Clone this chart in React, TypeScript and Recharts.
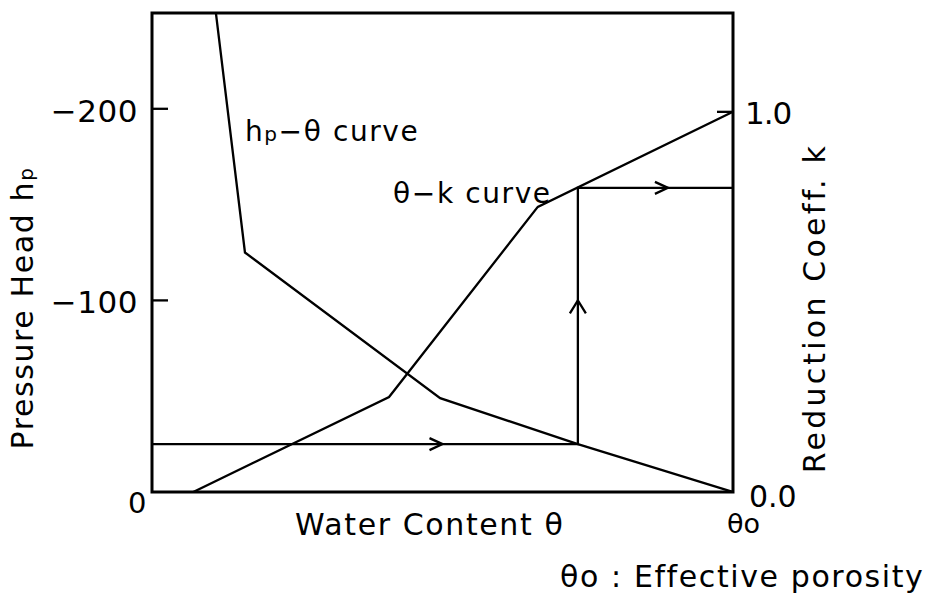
import {
  ComposedChart,
  Label,
  Line,
  ReferenceArea,
  ReferenceDot,
  Scatter,
  XAxis,
  YAxis,
} from "recharts";

const FONT = "'DejaVu Sans', sans-serif";
const INK = "#000";

// axis extents: pressure head (left, negative upward) and reduction coeff. (right)
const H_MAX = 250;
const K_MAX = 1.26;

// hp-θ curve, θ normalised by the effective porosity θo
const hpTheta = [0.11, 0.16, 0.496, 0.733, 1.0];
const hpHead = [-250, -125, -49, -25, 0];

// θ-k curve
const kTheta = [0.071, 0.408, 0.664, 1.0];
const kCoeff = [0, 0.25, 0.75, 1.0];

// reading path: hp on the left axis -> θ -> k on the right axis
const pathTheta = 0.733;
const pathHead = -25;
const pathK = 0.8;

// arrow heads along the path
const arrowTheta = [0.5, 0.733, 0.888];
const arrowDir = ["right", "up", "right"];

const leftTicks = [-200, -100, 0];
const rightTicks = [0, 1.0];
const thetaTicks = [1];

// k expressed in the left-axis units so the path can be one polyline
const kToHead = (k: number) => (-k * H_MAX) / K_MAX;

const hpData = hpTheta.map((t, i) => ({ t, h: hpHead[i] }));
const kData = kTheta.map((t, i) => ({ t, k: kCoeff[i] }));
const pathData = [
  { t: 0, h: pathHead },
  { t: pathTheta, h: pathHead },
  { t: pathTheta, h: kToHead(pathK) },
  { t: 1, h: kToHead(pathK) },
];
const arrowHead = [pathHead, -100, kToHead(pathK)];
const arrowData = arrowTheta.map((t, i) => ({ t, h: arrowHead[i], dir: arrowDir[i] }));

const txt = { fontFamily: FONT, fill: INK, letterSpacing: 1.6 } as const;
const LINE_W = 2.3;

const LeftTick = (props: any) => {
  const { x, y, payload } = props;
  const v = payload.value as number;
  if (v === 0) {
    return (
      <text x={x - 4} y={y + 21} textAnchor="end" fontSize={29} {...txt}>
        0
      </text>
    );
  }
  return (
    <g>
      <line x1={x} y1={y} x2={x + 16} y2={y} stroke={INK} strokeWidth={2.3} />
      <text x={x - 14} y={y + 13} textAnchor="end" fontSize={31} {...txt} letterSpacing={0.5}>
        {`−${Math.abs(v)}`}
      </text>
    </g>
  );
};

const RightTick = (props: any) => {
  const { x, y, payload } = props;
  const v = payload.value as number;
  if (v === 0) {
    return (
      <text x={x + 16} y={y + 15} textAnchor="start" fontSize={30} {...txt} letterSpacing={0}>
        0.0
      </text>
    );
  }
  return (
    <g>
      <line x1={x - 16} y1={y} x2={x} y2={y} stroke={INK} strokeWidth={2.3} />
      <text x={x + 12} y={y + 12} textAnchor="start" fontSize={31} {...txt} letterSpacing={-1}>
        {v.toFixed(1)}
      </text>
    </g>
  );
};

const ThetaTick = (props: any) => {
  const { x, y } = props;
  return (
    <text x={x - 6} y={y + 41} textAnchor="start" fontSize={27} {...txt} letterSpacing={0}>
      θo
    </text>
  );
};

const Arrow = (props: any) => {
  const { cx, cy, payload } = props;
  const d =
    payload.dir === "up"
      ? `M${cx - 8},${cy + 13} L${cx},${cy} L${cx + 8},${cy + 13}`
      : `M${cx - 13},${cy - 6} L${cx},${cy} L${cx - 13},${cy + 6}`;
  return <path d={d} fill="none" stroke={INK} strokeWidth={LINE_W} />;
};

const LeftTitle = (props: any) => {
  const { x, y } = props.viewBox;
  const cx = x + 33;
  const cy = y + 295;
  return (
    <text x={cx} y={cy} transform={`rotate(-90 ${cx} ${cy})`} textAnchor="middle" fontSize={30} {...txt}>
      Pressure Head h
      <tspan fontSize={20}>p</tspan>
    </text>
  );
};

const RightTitle = (props: any) => {
  const { x, y } = props.viewBox;
  const cx = x + 92;
  const cy = y + 295;
  return (
    <text
      x={cx}
      y={cy}
      transform={`rotate(-90 ${cx} ${cy})`}
      textAnchor="middle"
      fontSize={30}
      {...txt}
      letterSpacing={3.2}
    >
      Reduction Coeff. k
    </text>
  );
};

const BottomTitle = (props: any) => {
  const { x, y } = props.viewBox;
  return (
    <text x={x + 143} y={y + 43} textAnchor="start" fontSize={30} {...txt}>
      Water Content θ
    </text>
  );
};

const Footnote = (props: any) => {
  const { x, y } = props.viewBox;
  return (
    <text x={x + 408} y={y + 95} textAnchor="start" fontSize={30} {...txt}>
      θo : Effective porosity
    </text>
  );
};

const HpCurveLabel = (props: any) => {
  const { x, y } = props.viewBox;
  return (
    <text x={x} y={y} textAnchor="start" fontSize={28} {...txt}>
      h<tspan fontSize={20}>p</tspan>−θ curve
    </text>
  );
};

const KCurveLabel = (props: any) => {
  const { x, y } = props.viewBox;
  return (
    <text x={x} y={y} textAnchor="start" fontSize={28} {...txt}>
      θ−k curve
    </text>
  );
};

export default function App() {
  return (
    <div style={{ position: "absolute", left: 0, top: 0, width: 932, height: 596, background: "#fff" }}>
      <ComposedChart width={932} height={596} margin={{ top: 13, right: 0, bottom: 0, left: 0 }}>
        <XAxis
          type="number"
          dataKey="t"
          domain={[0, 1]}
          ticks={thetaTicks}
          height={104}
          axisLine={false}
          tickLine={false}
          tickSize={0}
          tickMargin={0}
          tick={<ThetaTick />}
          allowDataOverflow
        >
          <Label content={<BottomTitle />} />
          <Label content={<Footnote />} />
        </XAxis>
        <YAxis
          yAxisId="h"
          type="number"
          domain={[-H_MAX, 0]}
          reversed
          ticks={leftTicks}
          width={152}
          axisLine={false}
          tickLine={false}
          tickSize={0}
          tickMargin={0}
          tick={<LeftTick />}
          allowDataOverflow
        >
          <Label content={<LeftTitle />} />
        </YAxis>
        <YAxis
          yAxisId="k"
          orientation="right"
          type="number"
          domain={[0, K_MAX]}
          ticks={rightTicks}
          width={199}
          axisLine={false}
          tickLine={false}
          tickSize={0}
          tickMargin={0}
          tick={<RightTick />}
          allowDataOverflow
        >
          <Label content={<RightTitle />} />
        </YAxis>

        <Line
          yAxisId="h"
          data={hpData}
          dataKey="h"
          type="linear"
          stroke={INK}
          strokeWidth={LINE_W}
          dot={false}
          activeDot={false}
          isAnimationActive={false}
        />
        <Line
          yAxisId="k"
          data={kData}
          dataKey="k"
          type="linear"
          stroke={INK}
          strokeWidth={LINE_W}
          dot={false}
          activeDot={false}
          isAnimationActive={false}
        />
        <Line
          yAxisId="h"
          data={pathData}
          dataKey="h"
          type="linear"
          stroke={INK}
          strokeWidth={LINE_W}
          dot={false}
          activeDot={false}
          isAnimationActive={false}
        />
        <Scatter yAxisId="h" data={arrowData} dataKey="h" shape={<Arrow />} isAnimationActive={false} />

        <ReferenceDot yAxisId="h" x={0.16} y={-183} r={0} fill="none" stroke="none" label={<HpCurveLabel />} />
        <ReferenceDot yAxisId="h" x={0.415} y={-151} r={0} fill="none" stroke="none" label={<KCurveLabel />} />

        <ReferenceArea
          yAxisId="h"
          x1={0}
          x2={1}
          y1={-H_MAX}
          y2={0}
          fill="none"
          fillOpacity={0}
          stroke={INK}
          strokeWidth={3}
        />
      </ComposedChart>
    </div>
  );
}
